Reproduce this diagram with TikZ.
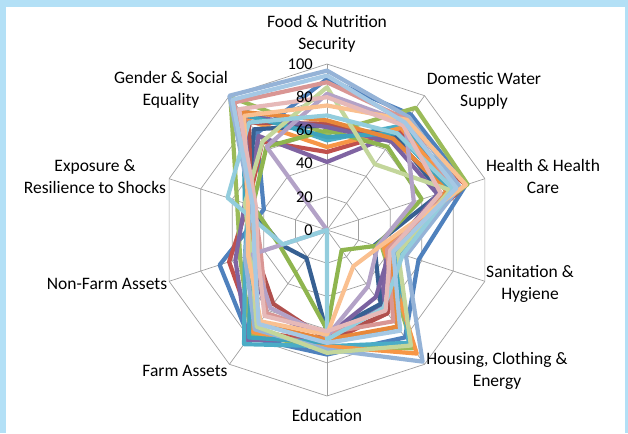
\documentclass[tikz,border=0pt]{standalone}
\usepackage{fontspec}
\setmainfont{Carlito}
\usepackage{tikz}

\definecolor{frameblue}{HTML}{B3E0F6}
\definecolor{gridgray}{HTML}{A0A0A0}
\definecolor{s1}{HTML}{4F81BD}
\definecolor{s2}{HTML}{C0504D}
\definecolor{s3}{HTML}{9BBB59}
\definecolor{s4}{HTML}{8064A2}
\definecolor{s5}{HTML}{4BACC6}
\definecolor{s6}{HTML}{F79646}
\definecolor{s7}{HTML}{376092}
\definecolor{s8}{HTML}{B0504E}
\definecolor{s9}{HTML}{8FB54F}
\definecolor{s10}{HTML}{7A62A0}
\definecolor{s11}{HTML}{3FA3BC}
\definecolor{s12}{HTML}{E8883A}
\definecolor{s13}{HTML}{95B3D7}
\definecolor{s14}{HTML}{D99694}
\definecolor{s15}{HTML}{C3D69B}
\definecolor{s16}{HTML}{B3A2C7}
\definecolor{s17}{HTML}{93CDDD}
\definecolor{s18}{HTML}{FAC090}
\definecolor{s19}{HTML}{E6B9B8}
\definecolor{s20}{HTML}{A5C8E4}

% one ring of values, clockwise from the top axis
\newcommand{\radarline}[2]{%
  \foreach \v [count=\k from 0] in {#2}
    \coordinate (p\k) at ({90-36*\k}:{1.66*\v});
  \draw[serie,draw=#1] (p0) -- (p1) -- (p2) -- (p3) -- (p4) -- (p5)
    -- (p6) -- (p7) -- (p8) -- (p9) -- cycle;
}

\begin{document}
\begin{tikzpicture}[x=1pt,y=1pt,
    grid/.style={draw=gridgray,line width=0.7pt},
    serie/.style={line width=4.2pt,line join=round},
    axislabel/.style={align=center,inner sep=0pt,font=\fontsize{17.5}{22}\selectfont},
    ticklabel/.style={anchor=east,inner sep=0pt,font=\fontsize{16.5}{18}\selectfont}]
  \useasboundingbox (-327,-203) rectangle (301,230);

  % frame
  \fill[frameblue] (-327,-203) rectangle (-321,230);
  \fill[frameblue] (-327,223) rectangle (301,230);
  \fill[frameblue] (298,-203) rectangle (301,230);

  % grid
  \foreach \k in {0,...,9}
    \draw[grid] (0,0) -- ({90-36*\k}:166);
  \foreach \r in {1,...,5}
    \draw[grid] (90:33.2*\r) \foreach \k in {1,...,9} {-- ({90-36*\k}:33.2*\r)} -- cycle;

  % series
  \radarline{s1}{91,86,88,58,80,75,80,68,40,72}
  \radarline{s2}{47,74,88,42,62,68,75,62,50,66}
  \radarline{s3}{58,91,89,35,88,71,78,55,57,99}
  \radarline{s4}{41,72,80,38,56,66,82,58,52,70}
  \radarline{s5}{54,78,84,44,84,70,85,52,50,90}
  \radarline{s6}{50,76,80,36,92,70,76,50,46,82}
  \radarline{s7}{63,70,72,30,55,62,21,29,50,75}
  \radarline{s8}{64,68,76,42,62,66,55,45,48,80}
  \radarline{s9}{60,62,60,31,15,60,32,30,47,62}
  \radarline{s10}{62,66,70,40,50,64,62,48,48,85}
  \radarline{s11}{56,72,78,46,72,68,80,48,52,86}
  \radarline{s12}{66,68,76,40,72,66,70,46,50,88}
  \radarline{s13}{96,84,84,50,98,72,74,52,48,100}
  \radarline{s14}{89,82,80,38,68,62,62,42,46,95}
  \radarline{s15}{86,49,78,45,86,74,72,48,52,66}
  \radarline{s16}{82,80,55,32,42,64,58,47,0,62}
  \radarline{s17}{69,72,80,48,58,66,0,28,63,80}
  \radarline{s18}{75,82,88,33,27,63,68,50,50,85}
  \radarline{s19}{80,78,72,40,60,61,64,44,45,90}
  \radarline{s20}{93,80,82,42,75,68,70,46,47,97}

  % scale
  \foreach \v in {0,20,...,100}
    \node[ticklabel] (tick\v) at (-14,1.66*\v) {\v};

  % axis names
  \node[axislabel] (food) at (0,196.5) {Food \& Nutrition\\Security};
  \node[axislabel] (water) at (157,139.5) {Domestic Water\\Supply};
  \node[axislabel] (health) at (216,53.5) {Health \& Health\\Care};
  \node[axislabel] (sanitation) at (203,-53.5) {Sanitation \&\\Hygiene};
  \node[axislabel] (housing) at (170,-141) {Housing, Clothing \&\\Energy};
  \node[axislabel] (education) at (0,-185) {Education};
  \node[axislabel] (farm) at (-142,-141) {Farm Assets};
  \node[axislabel] (nonfarm) at (-220,-54) {Non-Farm Assets};
  \node[axislabel] (exposure) at (-232,53.5) {Exposure \&\\Resilience to Shocks};
  \node[axislabel] (gender) at (-156,140.5) {Gender \& Social\\Equality};
\end{tikzpicture}
\end{document}
